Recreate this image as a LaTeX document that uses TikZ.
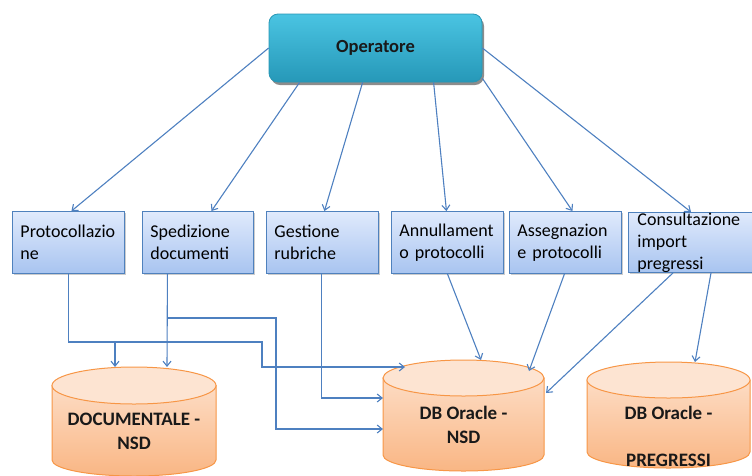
\documentclass[tikz,border=0pt]{standalone}
\usepackage{fontspec}
\setmainfont{Carlito}
\usetikzlibrary{arrows.meta,shadows,calc}
\definecolor{arrowc}{RGB}{78,128,192}
\definecolor{boxborder}{RGB}{79,129,189}
\definecolor{boxtop}{RGB}{224,234,252}
\definecolor{boxbot}{RGB}{168,196,240}
\definecolor{optop}{RGB}{74,196,226}
\definecolor{opbot}{RGB}{38,152,184}
\definecolor{opborder}{RGB}{40,150,180}
\definecolor{cylborder}{RGB}{247,150,70}
\definecolor{cyltop}{RGB}{253,228,210}
\definecolor{cylbtop}{RGB}{253,220,196}
\definecolor{cylbbot}{RGB}{249,182,132}
\newcommand\dbcyl[5]{%
  \pgfmathsetmacro\cylcx{(#1+#2)/2}%
  \pgfmathsetmacro\cylrx{(#2-#1)/2}%
  \shade[top color=cylbtop, bottom color=cylbbot, draw=cylborder, line width=1pt]
    (#1,#3+#4) -- (#1,#5) arc[start angle=180,end angle=360,x radius=\cylrx pt,y radius=16pt]
    -- (#2,#3+#4) -- cycle;
  \filldraw[fill=cyltop, draw=cylborder, line width=1pt]
    (\cylcx,#3+#4) ellipse[x radius=\cylrx pt, y radius=#4 pt];
}
\begin{document}
\begin{tikzpicture}[x=1pt,y=-1pt,
  arr/.style={draw=arrowc, line width=1.1pt, -{Straight Barb[length=5pt,width=8pt]}},
  ln/.style={draw=arrowc, line width=1.1pt},
  procbox/.style={draw=boxborder, line width=0.9pt, top color=boxtop, bottom color=boxbot,
    minimum height=62pt, inner xsep=8pt, inner ysep=0pt, text width=96pt, align=left,
    font=\fontsize{18}{22}\selectfont, anchor=north west,
    drop shadow={shadow xshift=1.5pt, shadow yshift=-1.5pt, opacity=0.2, fill=black}},
  cyltext/.style={font=\bfseries\fontsize{19}{23.5}\selectfont, align=center, text=black!90},
  hidden/.style={inner sep=0pt, outer sep=0pt, anchor=north west}
]
\useasboundingbox (0,0) rectangle (752,475);

% Operator
\node[draw=opborder, line width=0.8pt, top color=optop, bottom color=opbot, rounded corners=9pt,
  minimum width=213pt, minimum height=68pt, font=\bfseries\fontsize{18.5}{22}\selectfont,
  text=black!90,
  drop shadow={shadow xshift=2pt, shadow yshift=-3pt, opacity=0.45, fill=black}]
  (op) at (375.5,48) {Operatore};

% Process boxes
\node[procbox] (b1) at (12,211) {Protocollazio\\ne};
\node[procbox, text width=95pt] (b2) at (142,211) {Spedizione\\documenti};
\node[procbox] (b3) at (266,211) {Gestione\\rubriche};
\node[procbox] (b4) at (391,211) {Annullament\\o protocolli};
\node[procbox] (b5) at (509,211) {Assegnazion\\e protocolli};
\node[procbox, inner xsep=9pt, text width=114pt, minimum height=60pt] (b6) at (628,212) {Consultazione\\import\\pregressi};

% Databases
\dbcyl{52}{216}{367}{18.5}{460}
\dbcyl{383}{544}{360}{18}{455}
\dbcyl{587}{750}{362}{18}{452}
\node[hidden, minimum width=164pt, minimum height=110pt] (docs) at (52,367) {};
\node[hidden, minimum width=161pt, minimum height=112pt] (nsd) at (383,360) {};
\node[hidden, minimum width=163pt, minimum height=110pt] (preg) at (587,362) {};
\node[cyltext] (docsT) at (134,431.5) {DOCUMENTALE -\\NSD};
\node[cyltext] (nsdT) at (463.5,425) {DB Oracle -\\NSD};
\node[cyltext] (pregT) at (668.5,436) {DB Oracle -\\\mbox{}\\PREGRESSI};

% Operator to boxes
\draw[arr] (op.west) -- ([xshift=3pt]b1.north);
\draw[arr] ([xshift=31pt]op.south west) -- ([xshift=13.5pt]b2.north);
\draw[arr] ([xshift=94pt]op.south west) -- ([xshift=2pt]b3.north);
\draw[arr] ([xshift=165pt]op.south west) -- ([xshift=-1pt]b4.north);
\draw[arr] ([yshift=4pt]op.south east) -- ([xshift=7pt]b5.north);
\draw[arr] (op.east) -- ([xshift=63pt]b6.north west);

% Box connectors to databases
\coordinate (j1) at (115,342);
\coordinate (k1) at (262,342);
\draw[ln] (b1.south) |- (j1);
\draw[arr] (j1) -- ([xshift=-19pt]docs.north);
\draw[arr] (j1) -- (k1) |- ([xshift=22pt,yshift=-7pt]nsd.north west);

\coordinate (j2) at (167,318);
\coordinate (k2) at (276,318);
\draw[arr] ([xshift=-30.5pt]b2.south) -- ([xshift=33pt]docs.north);
\draw[arr] (j2) -- (k2) |- ([yshift=-69pt]nsd.north west);

\draw[arr] ([xshift=-1pt]b3.south) |- ([yshift=-38pt]nsd.north west);

\draw[arr] (b4.south) -- ([xshift=17.5pt]nsd.north);
\draw[arr] ([xshift=-1pt]b5.south) -- ([xshift=-15pt,yshift=-11pt]nsd.north east);
\draw[arr] ([xshift=45pt]b6.south west) -- ([xshift=2pt,yshift=-33pt]nsd.north east);
\draw[arr] ([xshift=83pt]b6.south west) -- ([xshift=108pt]preg.north west);
\end{tikzpicture}
\end{document}
